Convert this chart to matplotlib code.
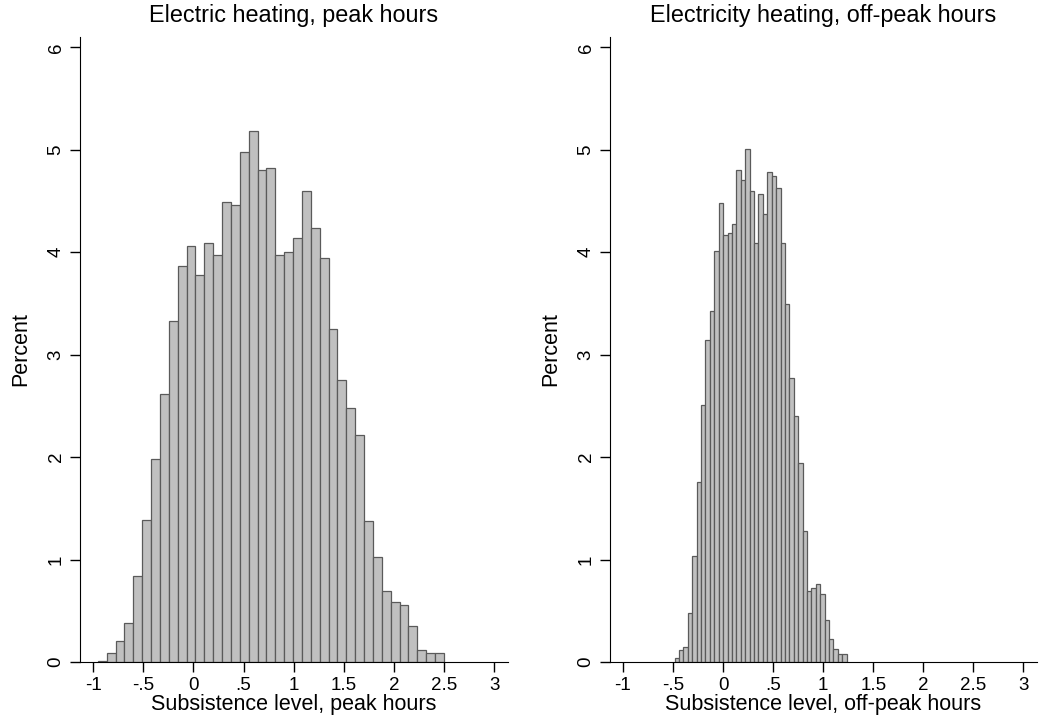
"""Histogrammes du niveau de subsistance, heures pleines / heures creuses."""

import matplotlib
matplotlib.use("Agg")
import matplotlib.pyplot as plt
import numpy as np

plt.rcParams["font.family"] = ["Liberation Sans", "DejaVu Sans"]

# Heures pleines (pourcentages par classe, 39 classes)
peak_start = -0.952
peak_width = 0.0884
peak_pct = [0.01, 0.088, 0.202, 0.378, 0.838, 1.388, 1.985, 2.62, 3.327,
            3.868, 4.06, 3.78, 4.086, 3.975, 4.49, 4.46, 4.975, 5.18, 4.806,
            4.82, 3.975, 4.0, 4.14, 4.6, 4.236, 3.94, 3.255, 2.757, 2.483,
            2.216, 1.375, 1.026, 0.694, 0.584, 0.561, 0.349, 0.117, 0.085, 0.085]

# Heures creuses
offpeak_start = -0.485
offpeak_width = 0.0441
offpeak_pct = [0.039, 0.121, 0.144, 0.476, 1.036, 1.754, 2.512, 3.145, 3.425,
               4.015, 4.477, 4.171, 4.184, 4.279, 4.806, 4.709, 5.01, 4.598,
               4.086, 4.572, 4.376, 4.78, 4.742, 4.624, 4.086, 3.49, 2.77, 2.40,
               1.94, 1.28, 0.694, 0.727, 0.766, 0.668, 0.408, 0.229, 0.131,
               0.075, 0.075]

x_ticks = [-1, -0.5, 0, 0.5, 1, 1.5, 2, 2.5, 3]
x_labels = ["-1", "-.5", "0", ".5", "1", "1.5", "2", "2.5", "3"]
y_ticks = [0, 1, 2, 3, 4, 5, 6]

panels = [
    ("Electric heating, peak hours", "Subsistence level, peak hours",
     peak_start, peak_width, peak_pct),
    ("Electricity heating, off-peak hours", "Subsistence level, off-peak hours",
     offpeak_start, offpeak_width, offpeak_pct),
]

fig = plt.figure(figsize=(10.4, 7.27), dpi=100)
axes = [fig.add_axes([0.0769, 0.0894, 0.4116, 0.8597]),
        fig.add_axes([0.5865, 0.0894, 0.4106, 0.8597])]

for ax, (title, xlabel, start, width, pct) in zip(axes, panels):
    left = start + width * np.arange(len(pct))
    ax.bar(left, pct, width=width, align="edge", color="#c0c0c0",
           edgecolor="#5a5a5a", linewidth=0.9)
    ax.set_xlim(-1.13, 3.135)
    ax.set_ylim(0, 6.1)
    ax.set_xticks(x_ticks, x_labels)
    ax.set_yticks(y_ticks)
    for lab in ax.get_yticklabels():
        lab.set_rotation(90)
        lab.set_va("center")
    ax.tick_params(direction="out", length=7, width=1, labelsize=13.5, pad=4)
    ax.spines["top"].set_visible(False)
    ax.spines["right"].set_visible(False)
    ax.set_title(title, fontsize=16.8, pad=11)
    ax.set_xlabel(xlabel, fontsize=15.5, labelpad=0)
    ax.set_ylabel("Percent", fontsize=15.5, labelpad=12)

fig.savefig("out.png", dpi=100)
